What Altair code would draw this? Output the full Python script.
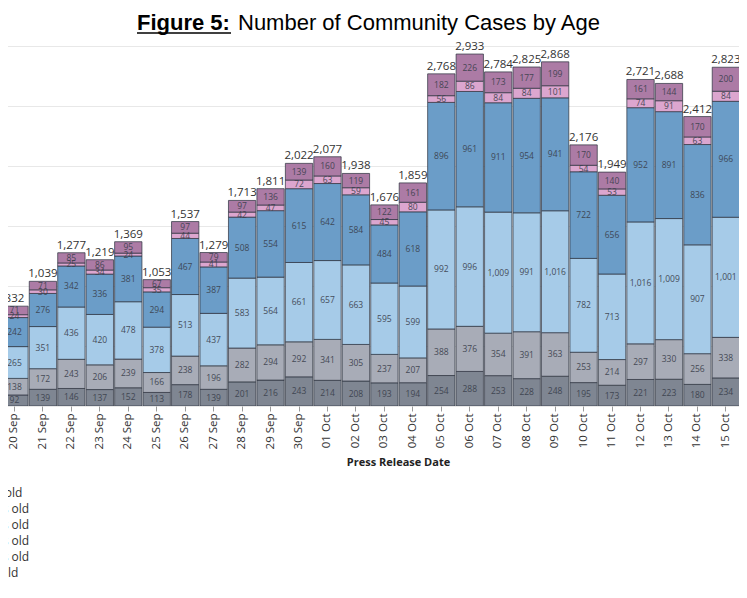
import altair as alt
import pandas as pd

# ---- data ----
dates = ["20 Sep", "21 Sep", "22 Sep", "23 Sep", "24 Sep", "25 Sep", "26 Sep",
         "27 Sep", "28 Sep", "29 Sep", "30 Sep", "01 Oct", "02 Oct", "03 Oct",
         "04 Oct", "05 Oct", "06 Oct", "07 Oct", "08 Oct", "09 Oct", "10 Oct",
         "11 Oct", "12 Oct", "13 Oct", "14 Oct", "15 Oct", "16 Oct"]

age_groups = ["0-19 years old", "20-29 years old", "30-39 years old",
              "40-49 years old", "50-59 years old", "60+ years old"]

# bottom -> top of each stack
grp1 = [92, 139, 146, 137, 152, 113, 178, 139, 201, 216, 243, 214, 208, 193,
        194, 254, 288, 253, 228, 248, 195, 173, 221, 223, 180, 234, 175]
grp2 = [138, 172, 243, 206, 239, 166, 238, 196, 282, 294, 292, 341, 305, 237,
        207, 388, 376, 354, 391, 363, 253, 214, 297, 330, 256, 338, 292]
grp3 = [265, 351, 436, 420, 478, 378, 513, 437, 583, 564, 661, 657, 663, 595,
        599, 992, 996, 1009, 991, 1016, 782, 713, 1016, 1009, 907, 1001, 1008]
grp4 = [242, 276, 342, 336, 381, 294, 467, 387, 508, 554, 615, 642, 584, 484,
        618, 896, 961, 911, 954, 941, 722, 656, 952, 891, 836, 966, 975]
grp5 = [24, 30, 25, 34, 24, 35, 44, 41, 42, 47, 72, 63, 59, 45,
        80, 56, 86, 84, 84, 101, 54, 53, 74, 91, 63, 84, 67]
grp6 = [71, 71, 85, 86, 95, 67, 97, 79, 97, 136, 139, 160, 119, 122,
        161, 182, 226, 173, 177, 199, 170, 140, 161, 144, 170, 200, 175]

colors = ["#7f8692", "#a8acb7", "#a6cbe8", "#6b9dc8", "#dca6cf", "#ac7ba5"]

title_bold = ["Figure 5:"]
title_rest = ["Number of Community Cases by Age"]

# ---- tables built from the arrays ----
series = [grp1, grp2, grp3, grp4, grp5, grp6]
rows = []
for i, d in enumerate(dates):
    for k, g in enumerate(age_groups):
        rows.append({"date": d, "group": g, "idx": k, "value": series[k][i]})
long_df = pd.DataFrame(rows)
tot_df = pd.DataFrame({"date": dates,
                       "total": [sum(s[i] for s in series) for i in range(len(dates))]})

x_scale = alt.Scale(domain=dates, range=[-7.2, 760.0], paddingInner=0.04, paddingOuter=0)
x_enc = alt.X("date:N", sort=dates, scale=x_scale, title="Press Release Date",
              axis=alt.Axis(labelAngle=270, labelFontSize=11.5, labelFont="Open Sans",
                            labelColor="#333333", labelPadding=2, tickSize=5,
                            tickColor="#9a9a9a", domain=False,
                            titleFont="Open Sans", titleFontSize=11, titleFontWeight="bold",
                            titleColor="#222222", titleX=390, titleY=56,
                            titleBaseline="middle", titleAnchor="start", titleAlign="center"))
y_scale = alt.Scale(domain=[0, 3050], nice=False)
y_axis = alt.Axis(grid=True, labels=False, ticks=False, domain=False,
                  values=[0, 500, 1000, 1500, 2000, 2500, 3000],
                  gridColor="#e8e8e8", gridWidth=1, title=None)

stacked = alt.Chart(long_df).transform_stack(
    stack="value", groupby=["date"], as_=["v0", "v1"],
    sort=[alt.SortField("idx", order="ascending")]
).transform_calculate(mid="(datum.v0 + datum.v1) / 2")

bars = stacked.mark_bar(stroke="#2e3340", strokeWidth=0.8, strokeOpacity=0.9, clip=True).encode(
    x=x_enc,
    y=alt.Y("v0:Q", scale=y_scale, axis=y_axis),
    y2="v1:Q",
    color=alt.Color("group:N", scale=alt.Scale(domain=age_groups, range=colors),
                    legend=alt.Legend(title=None, orient="none", legendX=-81, legendY=447,
                                      symbolType="square", symbolSize=100,
                                      labelFont="Open Sans", labelFontSize=12,
                                      labelColor="#333333", labelOffset=5,
                                      rowPadding=0, padding=0)),
)

seg_labels = stacked.mark_text(fontSize=8.5, font="Open Sans", color="#3a404c",
                               opacity=0.9, clip=True).encode(
    x=alt.X("date:N", sort=dates, scale=x_scale),
    y=alt.Y("mid:Q", scale=y_scale),
    text=alt.Text("value:Q", format=","),
)

totals = alt.Chart(tot_df).mark_text(fontSize=11.5, font="Open Sans", color="#333333",
                                     baseline="alphabetic", dy=-4, clip=True).encode(
    x=alt.X("date:N", sort=dates, scale=x_scale),
    y=alt.Y("total:Q", scale=y_scale),
    text=alt.Text("total:Q", format=","),
)

t1 = alt.Chart(pd.DataFrame({"t": title_bold})).mark_text(
    font="Liberation Sans", fontSize=22, fontWeight="bold", color="#000000",
    align="left", baseline="alphabetic").encode(
    x=alt.value(129), y=alt.value(-10), text="t:N")
t2 = alt.Chart(pd.DataFrame({"t": title_rest})).mark_text(
    font="Liberation Sans", fontSize=22, color="#000000",
    align="left", baseline="alphabetic").encode(
    x=alt.value(230), y=alt.value(-10), text="t:N")
underline = alt.Chart(pd.DataFrame({"t": title_bold})).mark_rule(
    color="#000000", strokeWidth=1.6).encode(
    x=alt.value(129), x2=alt.value(223), y=alt.value(-7))

chart = alt.layer(bars, seg_labels, totals, t1, t2, underline).properties(
    width=731, height=366,
    padding={"left": 0, "top": 32, "right": 0, "bottom": 177},
    autosize=alt.AutoSizeParams(type="none"),
    background="white",
).configure_view(stroke=None)

chart.save("out.html", embed_options={"renderer": "svg", "actions": False})
